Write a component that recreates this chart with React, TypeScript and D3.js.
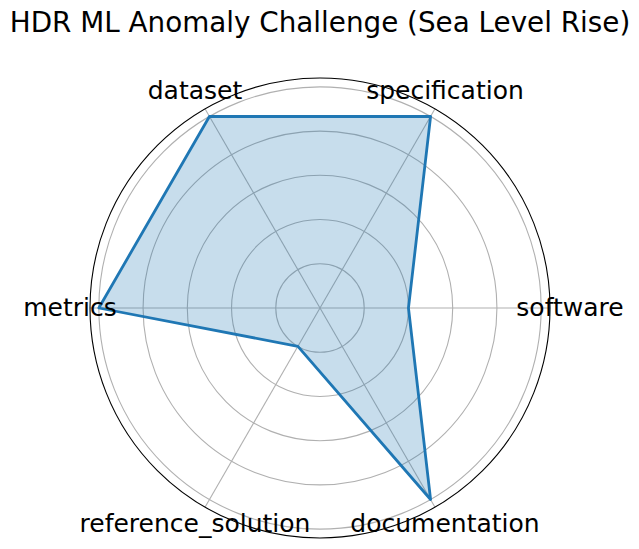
import React, { useRef, useEffect } from 'react';
import * as d3 from 'd3';

const title = 'HDR ML Anomaly Challenge (Sea Level Rise)';
const categories = ['software', 'specification', 'dataset', 'metrics', 'reference_solution', 'documentation'];
const values = [0.4, 1.0, 1.0, 1.0, 0.2, 1.0];
const gridTicks = [0.2, 0.4, 0.6, 0.8, 1.0];
const rMax = 1.04;

const App = () => {
  const svgRef = useRef<SVGSVGElement>(null);

  useEffect(() => {
    const width = 639;
    const height = 549;
    const cx = 320;
    const cy = 308;
    const outer = 230;
    const color = '#1f77b4';

    const svg = d3.select(svgRef.current);
    svg.selectAll('*').remove();
    svg.attr('width', width).attr('height', height)
      .attr('style', 'font-family: "DejaVu Sans", sans-serif; background: white;');

    const r = d3.scaleLinear().domain([0, rMax]).range([0, outer]);
    // angles counterclockwise starting at east
    const angle = d3.scaleLinear().domain([0, categories.length]).range([0, 2 * Math.PI]);
    const pt = (i: number, rad: number): [number, number] =>
      [cx + rad * Math.cos(angle(i)), cy - rad * Math.sin(angle(i))];

    const g = svg.append('g');

    // circular grid
    g.append('g')
      .selectAll('circle')
      .data(gridTicks)
      .join('circle')
      .attr('cx', cx).attr('cy', cy)
      .attr('r', d => r(d))
      .attr('fill', 'none')
      .attr('stroke', '#b0b0b0')
      .attr('stroke-width', 1.1);

    // spokes
    g.append('g')
      .selectAll('line')
      .data(categories)
      .join('line')
      .attr('x1', cx).attr('y1', cy)
      .attr('x2', (_, i) => pt(i, outer)[0])
      .attr('y2', (_, i) => pt(i, outer)[1])
      .attr('stroke', '#b0b0b0')
      .attr('stroke-width', 1.1);

    const points = values.map((v, i) => pt(i, r(v)));
    const line = d3.line().curve(d3.curveLinearClosed);

    g.append('path')
      .attr('d', line(points))
      .attr('fill', color)
      .attr('fill-opacity', 0.25)
      .attr('stroke', 'none');

    g.append('path')
      .attr('d', line(points))
      .attr('fill', 'none')
      .attr('stroke', color)
      .attr('stroke-width', 2.8)
      .attr('stroke-linejoin', 'round');

    // outer spine
    g.append('circle')
      .attr('cx', cx).attr('cy', cy).attr('r', outer)
      .attr('fill', 'none')
      .attr('stroke', 'black')
      .attr('stroke-width', 1.1);

    // category labels
    g.append('g')
      .selectAll('text')
      .data(categories)
      .join('text')
      .attr('x', (_, i) => pt(i, 250)[0])
      .attr('y', (_, i) => pt(i, 250)[1] - 1)
      .attr('text-anchor', 'middle')
      .attr('dominant-baseline', 'central')
      .attr('font-size', 25)
      .attr('fill', 'black')
      .text(d => d);

    svg.append('text')
      .attr('x', cx)
      .attr('y', 32)
      .attr('text-anchor', 'middle')
      .attr('font-size', 27.8)
      .attr('fill', 'black')
      .text(title);
  }, []);

  return (
    <div style={{ position: 'absolute', left: 0, top: 0 }}>
      <svg ref={svgRef}></svg>
    </div>
  );
};

export default App;
